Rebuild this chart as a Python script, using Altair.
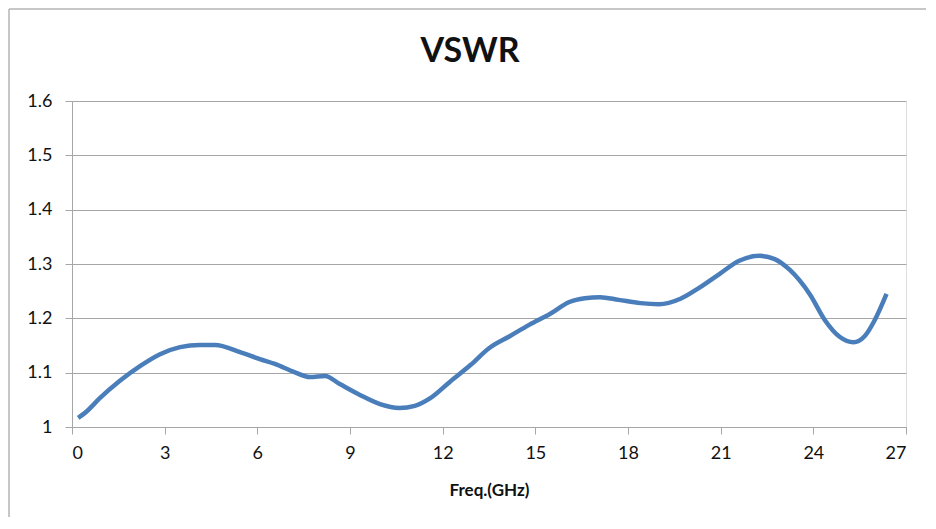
import altair as alt
import pandas as pd

freq = [0.2, 0.42, 0.9, 1.55, 2.2, 2.85, 3.5, 4.14, 4.63, 5.44, 6.08, 6.57, 7.2, 7.7, 8.19,
        8.67, 9.32, 9.97, 10.6, 11.1, 11.6, 12.23, 12.9, 13.5, 14.17, 14.8, 15.47, 16.1,
        16.6, 17.1, 17.7, 18.4, 19.0, 19.7, 20.3, 20.97, 21.6, 22.26, 22.75, 23.24, 23.9,
        24.37, 24.85, 25.3, 25.66, 25.99, 26.37]
vswr = [1.017, 1.026, 1.053, 1.085, 1.112, 1.134, 1.147, 1.151, 1.151, 1.138, 1.125, 1.116,
        1.101, 1.092, 1.094, 1.079, 1.059, 1.042, 1.035, 1.039, 1.053, 1.083, 1.114, 1.145,
        1.167, 1.188, 1.208, 1.23, 1.237, 1.239, 1.234, 1.228, 1.226, 1.236, 1.256, 1.282,
        1.306, 1.315, 1.309, 1.289, 1.243, 1.197, 1.166, 1.156, 1.167, 1.197, 1.245]
x_ticks = [0, 3, 6, 9, 12, 15, 18, 21, 24, 27]
y_ticks = [1.0, 1.1, 1.2, 1.3, 1.4, 1.5, 1.6]
title_text = ["VSWR"]

df = pd.DataFrame({"freq": freq, "vswr": vswr})

W, H = 834, 326
FONT = "Lato"
one = pd.DataFrame({"a": [0]})

border_left = alt.Chart(one).mark_rule(
    color="#b4b4b4", strokeWidth=1.5, clip=False
).encode(x=alt.value(-63), y=alt.value(-92), y2=alt.value(H + 100))

border_top = alt.Chart(one).mark_rule(
    color="#b4b4b4", strokeWidth=1.5, clip=False
).encode(y=alt.value(-92), x=alt.value(-63), x2=alt.value(W + 20))

title = alt.Chart(pd.DataFrame({"t": title_text})).mark_text(
    font=FONT, fontSize=34, fontWeight="bold", color="#111",
    align="center", baseline="alphabetic"
).encode(
    text="t:N", x=alt.value(398), y=alt.value(-39),
)

line = alt.Chart(df).mark_line(
    color="#4a7ebb", strokeWidth=4.5, interpolate="monotone"
).encode(
    x=alt.X("freq:Q",
            scale=alt.Scale(domain=[0, 27], nice=False, zero=False),
            axis=alt.Axis(values=x_ticks, title="Freq.(GHz)", grid=False,
                          tickSize=7, tickColor="#a6a6a6", domainColor="#a6a6a6",
                          labelFontSize=18, labelColor="#111", labelPadding=10,
                          titleFontSize=17, titleFontWeight="bold", titleColor="#111",
                          titlePadding=20, labelFont=FONT, titleFont=FONT)),
    y=alt.Y("vswr:Q",
            scale=alt.Scale(domain=[1.0, 1.6], nice=False, zero=False),
            axis=alt.Axis(values=y_ticks, title=None, grid=True, gridColor="#a6a6a6",
                          gridWidth=1.2, tickSize=7, tickColor="#a6a6a6",
                          domainColor="#a6a6a6", labelFontSize=18, labelColor="#111",
                          labelPadding=13, labelFont=FONT,
                          labelExpr="datum.value == 1 ? '1' : format(datum.value, '.1f')")),
)

chart = alt.layer(border_left, border_top, line, title).properties(
    width=W, height=H,
    autosize=alt.AutoSizeParams(type="none"),
    padding={"left": 64, "top": 93, "right": 22, "bottom": 90},
).configure_view(stroke=None).configure(background="white")

chart.save("out.html", embed_options={"renderer": "svg", "actions": False})
